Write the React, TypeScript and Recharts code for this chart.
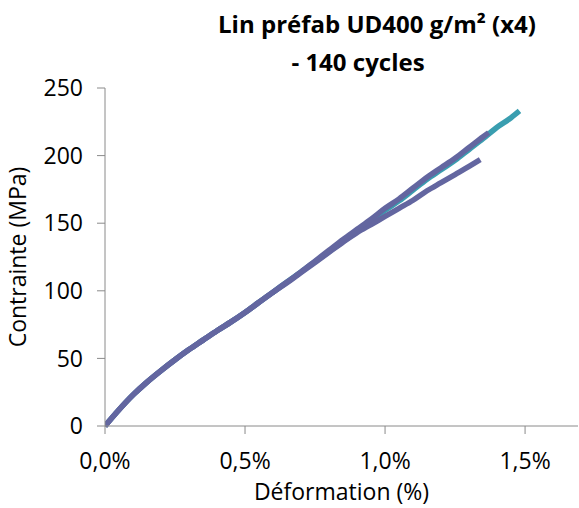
import React from "react";
import { LineChart, Line, XAxis, YAxis, ResponsiveContainer } from "recharts";

// strain in %, stress in MPa
const strainTeal = [0, 0.05, 0.1, 0.15, 0.2, 0.25, 0.3, 0.35, 0.4, 0.45, 0.5, 0.55, 0.6, 0.65, 0.7, 0.75, 0.8, 0.85, 0.9, 0.95, 1.0, 1.05, 1.1, 1.15, 1.2, 1.25, 1.3, 1.35, 1.4, 1.45, 1.48];
const stressTeal = [0, 12, 23, 32.5, 41, 49, 56.5, 63.5, 70.5, 77, 84, 91.5, 99, 106.5, 114, 121.5, 129, 136.5, 144, 151.5, 159.5, 166.5, 174.5, 182.5, 189.5, 196.5, 204.5, 212.5, 221, 228, 233];

const strainUpper = [0, 0.05, 0.1, 0.15, 0.2, 0.25, 0.3, 0.35, 0.4, 0.45, 0.5, 0.55, 0.6, 0.65, 0.7, 0.75, 0.8, 0.85, 0.9, 0.95, 1.0, 1.05, 1.1, 1.15, 1.2, 1.25, 1.3, 1.35, 1.37];
const stressUpper = [0, 12, 23, 32.5, 41, 49, 56.5, 63.5, 70.5, 77, 84, 91.5, 99, 106.5, 114, 122, 130, 138, 145.5, 153, 161, 168, 176, 184, 191, 198, 206, 214, 217];

const strainLower = [0, 0.05, 0.1, 0.15, 0.2, 0.25, 0.3, 0.35, 0.4, 0.45, 0.5, 0.55, 0.6, 0.65, 0.7, 0.75, 0.8, 0.85, 0.9, 0.95, 1.0, 1.05, 1.1, 1.15, 1.2, 1.25, 1.3, 1.34];
const stressLower = [0, 12, 23, 32.5, 41, 49, 56.5, 63.5, 70.5, 77, 84, 91.5, 99, 106, 113.5, 121, 128.5, 136, 143, 149, 155, 161, 167, 174, 180, 186, 192, 197];

const xTicks = [0, 0.5, 1.0, 1.5];
const yTicks = [0, 50, 100, 150, 200, 250];

const toPoints = (xs: number[], ys: number[]) => xs.map((x, i) => ({ x, y: ys[i] }));

const tealData = toPoints(strainTeal, stressTeal);
const upperData = toPoints(strainUpper, stressUpper);
const lowerData = toPoints(strainLower, stressLower);

const font = "'Open Sans', sans-serif";
const purple = "#6366a0";
const teal = "#3a9eb0";
const axisGrey = "#8a8a8a";

export default function App() {
  return (
    <div style={{ position: "absolute", left: 0, top: 0, width: 579, height: 508, background: "#fff" }}>
      <svg width={579} height={90} style={{ position: "absolute", left: 0, top: 0 }}>
        <text x={377} y={33} textAnchor="middle" fontFamily={font} fontWeight={700} fontSize={24} fill="#000">
          Lin préfab UD400 g/m² (x4)
        </text>
        <text x={358} y={71} textAnchor="middle" fontFamily={font} fontWeight={700} fontSize={24} fill="#000">
          - 140 cycles
        </text>
      </svg>
      <div style={{ position: "absolute", left: 0, top: 0, width: 579, height: 508 }}>
        <ResponsiveContainer width="100%" height="100%">
          <LineChart margin={{ top: 88, right: 1, bottom: 0, left: 30 }}>
            <XAxis
              dataKey="x"
              type="number"
              domain={[0, 1.689]}
              ticks={xTicks}
              height={82}
              tickFormatter={(v: number) => v.toFixed(1).replace(".", ",") + "%"}
              stroke={axisGrey}
              tick={{ fill: "#000", fontSize: 23, fontFamily: font }}
              tickLine={{ stroke: axisGrey }}
              tickSize={8}
              tickMargin={19}
              allowDataOverflow
              label={{ value: "Déformation (%)", position: "insideBottom", offset: 8, fill: "#000", fontSize: 23, fontFamily: font }}
            />
            <YAxis
              type="number"
              domain={[0, 250]}
              ticks={yTicks}
              width={75}
              stroke={axisGrey}
              tick={{ fill: "#000", fontSize: 23, fontFamily: font }}
              tickLine={{ stroke: axisGrey }}
              tickSize={8}
              tickMargin={14}
              label={{ value: "Contrainte (MPa)", angle: -90, position: "insideLeft", offset: -12, fill: "#000", fontSize: 23, fontFamily: font, style: { textAnchor: "middle" } }}
            />
            <Line data={tealData} dataKey="y" type="monotone" stroke={teal} strokeWidth={5.5} dot={false} isAnimationActive={false} />
            <Line data={lowerData} dataKey="y" type="monotone" stroke={purple} strokeWidth={5.5} dot={false} isAnimationActive={false} />
            <Line data={upperData} dataKey="y" type="monotone" stroke={purple} strokeWidth={5.5} dot={false} isAnimationActive={false} />
          </LineChart>
        </ResponsiveContainer>
      </div>
    </div>
  );
}
